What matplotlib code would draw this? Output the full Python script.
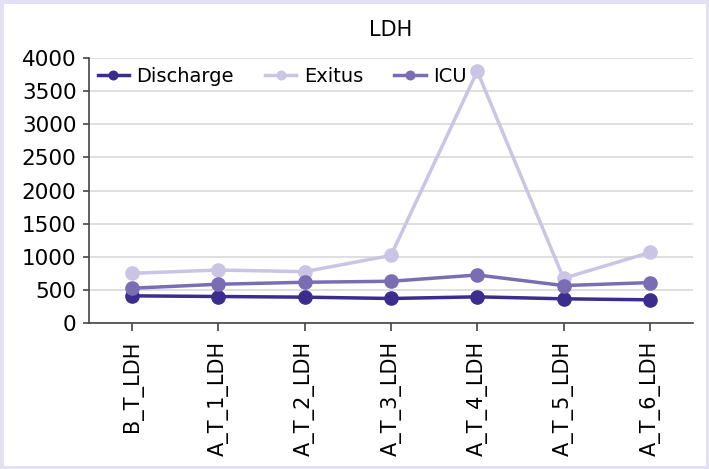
import matplotlib
matplotlib.use('Agg')
import matplotlib.pyplot as plt
from matplotlib.patches import Rectangle

# Data
categories = ['B_T_LDH', 'A_T_1_LDH', 'A_T_2_LDH', 'A_T_3_LDH', 'A_T_4_LDH', 'A_T_5_LDH', 'A_T_6_LDH']
discharge = [410, 400, 390, 370, 395, 365, 350]
exitus = [750, 800, 775, 1020, 3800, 675, 1065]
icu = [525, 585, 615, 630, 725, 565, 610]

plt.rcParams['font.family'] = ['DejaVu Sans']

fig = plt.figure(figsize=(7.09, 4.69), dpi=100)
ax = fig.add_axes([0.1255, 0.3113, 0.8519, 0.565])

x = range(len(categories))
ax.plot(x, discharge, color='#3a2d8e', lw=2.5, marker='o', ms=9.5, label='Discharge', zorder=3)
ax.plot(x, exitus, color='#cac5e4', lw=2.5, marker='o', ms=9.5, label='Exitus', zorder=3)
ax.plot(x, icu, color='#7a6db4', lw=2.5, marker='o', ms=9.5, label='ICU', zorder=3)

ax.set_xlim(-0.5, 6.5)
ax.set_ylim(0, 4000)
ax.set_yticks(range(0, 4001, 500))
ax.set_xticks(list(x))
ax.set_xticklabels(categories, rotation=90)
ax.tick_params(axis='y', labelsize=15.5, length=4, width=1.2, color='#444444', pad=5)
ax.tick_params(axis='x', labelsize=15, length=6, width=1.2, color='#444444', pad=7)
ax.grid(axis='y', color='#d9d9d9', lw=1.2, zorder=0)
ax.set_axisbelow(True)
for s in ['top', 'right']:
    ax.spines[s].set_visible(False)
for s in ['left', 'bottom']:
    ax.spines[s].set_color('#444444')
    ax.spines[s].set_linewidth(1.2)

ax.set_title('LDH', fontsize=15, pad=16)
ax.legend(loc='upper left', ncol=3, frameon=False, fontsize=14, handlelength=1.6,
          handletextpad=0.4, columnspacing=1.6, borderaxespad=0.0, markerscale=0.65,
          borderpad=0.45, bbox_to_anchor=(0.0, 1.0))

fig.patches.append(Rectangle((0, 0), 1, 1, transform=fig.transFigure, fill=False,
                             edgecolor='#e2e0f2', lw=5, zorder=10))

fig.savefig('out.png', dpi=100)
